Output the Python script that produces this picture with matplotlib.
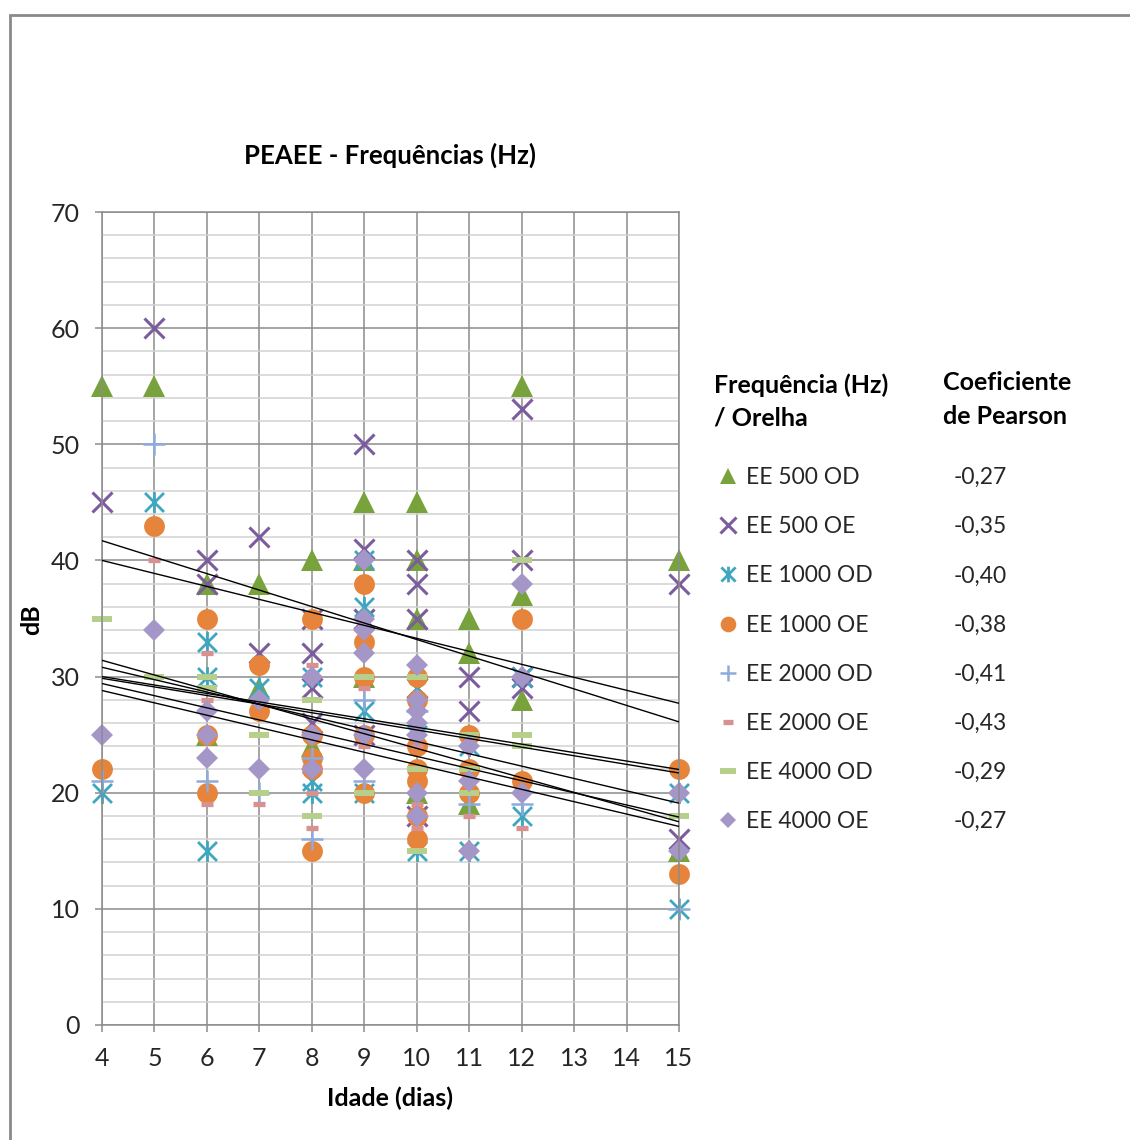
import matplotlib.pyplot as plt
import numpy as np
from matplotlib.lines import Line2D
from matplotlib.path import Path
from matplotlib.patches import Rectangle

plt.rcParams['font.family'] = ['Lato', 'DejaVu Sans']

# Idade (dias) e limiar (dB) de cada série
dias_500od = [4, 5, 6, 6, 7, 7, 8, 8, 9, 9, 9, 10, 10, 10, 10, 11, 11, 11, 12, 12, 12, 15, 15]
db_500od = [55, 55, 38, 25, 38, 29, 40, 24, 45, 40, 30, 45, 40, 35, 20, 35, 32, 19, 55, 37, 28, 40, 15]

dias_500oe = [4, 5, 6, 6, 7, 7, 8, 8, 8, 8, 9, 9, 9, 9, 10, 10, 10, 10, 10, 11, 11, 12, 12, 12, 12, 15, 15]
db_500oe = [45, 60, 40, 38, 42, 32, 35, 32, 29, 26, 50, 41, 35, 25, 40, 38, 35, 29, 18, 30, 27, 53, 40, 30, 29, 38, 16]

dias_1000od = [4, 5, 6, 6, 6, 7, 8, 8, 8, 9, 9, 9, 9, 10, 10, 10, 11, 11, 12, 12, 15, 15]
db_1000od = [20, 45, 33, 30, 15, 29, 30, 21, 20, 40, 36, 27, 20, 29, 25, 15, 24, 15, 30, 18, 20, 10]

dias_1000oe = [4, 5, 6, 6, 6, 7, 7, 8, 8, 8, 8, 8, 9, 9, 9, 9, 9, 10, 10, 10, 10, 10, 10, 10, 11, 11, 11, 12, 12, 15, 15]
db_1000oe = [22, 43, 35, 25, 20, 31, 27, 35, 25, 23, 22, 15, 38, 33, 30, 25, 20, 30, 28, 24, 22, 21, 18, 16, 25, 22, 20, 35, 21, 22, 13]

dias_2000od = [4, 5, 6, 7, 8, 8, 9, 9, 10, 10, 11, 12, 15]
db_2000od = [21, 50, 21, 20, 23, 16, 28, 21, 27, 18, 19, 19, 10]

dias_2000oe = [4, 5, 6, 6, 6, 7, 8, 8, 8, 9, 9, 9, 10, 10, 10, 11, 11, 12, 12, 15]
db_2000oe = [25, 40, 32, 28, 19, 19, 31, 20, 17, 32, 29, 24, 24, 19, 17, 18, 15, 20, 17, 20]

dias_4000od = [4, 5, 6, 6, 7, 7, 8, 8, 9, 9, 10, 10, 10, 11, 11, 11, 12, 12, 12, 15]
db_4000od = [35, 30, 30, 29, 25, 20, 28, 18, 30, 20, 30, 22, 15, 25, 22, 20, 40, 25, 24, 18]

dias_4000oe = [4, 5, 6, 6, 6, 7, 7, 8, 8, 8, 9, 9, 9, 9, 9, 9, 10, 10, 10, 10, 10, 10, 10, 11, 11, 11, 12, 12, 12, 15, 15]
db_4000oe = [25, 34, 27, 25, 23, 28, 22, 30, 25, 22, 40, 35, 34, 32, 25, 22, 31, 28, 27, 26, 25, 20, 18, 24, 21, 15, 38, 30, 20, 20, 15]

series_names = ['EE 500 OD', 'EE 500 OE', 'EE 1000 OD', 'EE 1000 OE',
                'EE 2000 OD', 'EE 2000 OE', 'EE 4000 OD', 'EE 4000 OE']
pearson = ['-0,27', '-0,35', '-0,40', '-0,38', '-0,41', '-0,43', '-0,29', '-0,27']

# linhas de tendência: valor lido em 4 dias e em 15 dias
trend_start = [40.0, 41.7, 31.4, 30.8, 29.4, 28.8, 30.0, 29.85]
trend_end = [27.7, 26.1, 17.5, 19.1, 17.9, 17.1, 22.0, 21.7]

all_days = [dias_500od, dias_500oe, dias_1000od, dias_1000oe,
            dias_2000od, dias_2000oe, dias_4000od, dias_4000oe]
all_db = [db_500od, db_500oe, db_1000od, db_1000oe,
          db_2000od, db_2000oe, db_4000od, db_4000oe]

# marcador tipo asterisco do Excel (X com traço vertical)
asterisk = Path([(-1, -1), (1, 1), (-1, 1), (1, -1), (0, -1.1), (0, 1.1)],
                [Path.MOVETO, Path.LINETO, Path.MOVETO, Path.LINETO, Path.MOVETO, Path.LINETO])

styles = [
    dict(marker='^', color='#77A23C', ms=15.5, mew=0),
    dict(marker='x', color='#7B5C9E', ms=15, mew=2.2),
    dict(marker=asterisk, color='#3FA6BF', ms=15, mew=2.0),
    dict(marker='o', color='#E5843A', ms=15, mew=0),
    dict(marker='+', color='#8FAADC', ms=16, mew=1.8),
    dict(marker='_', color='#D9918F', ms=9, mew=3.8),
    dict(marker='_', color='#B6D08C', ms=15, mew=4.3),
    dict(marker='D', color='#A497C7', ms=11, mew=0),
]

W, H = 1130, 1140
fig = plt.figure(figsize=(W / 100, H / 100), dpi=100)
ax = fig.add_axes([102 / W, 1 - 1025 / H, 577 / W, 813 / H])

handles = []
for i in range(len(series_names)):
    st = styles[i]
    h, = ax.plot(all_days[i], all_db[i], linestyle='none', marker=st['marker'],
                 color=st['color'], markeredgecolor=st['color'], ms=st['ms'], mew=st['mew'],
                 clip_on=False, zorder=2 + i * 0.01)
    handles.append(h)

# linhas de tendência
for i in range(len(series_names)):
    ax.plot([4, 15], [trend_start[i], trend_end[i]], color='black', lw=1.0, zorder=3)

ax.set_xlim(4, 15)
ax.set_ylim(0, 70)
ax.set_xticks(range(4, 16))
ax.set_yticks(range(0, 71, 10))
ax.set_yticks(range(0, 71, 2), minor=True)
ax.grid(which='major', color='#8c8c8c', lw=1.1)
ax.yaxis.grid(which='minor', color='#d2d2d2', lw=1.1)
ax.set_axisbelow(True)
for s in ax.spines.values():
    s.set_color('#8c8c8c')
    s.set_linewidth(1.1)
ax.tick_params(which='major', direction='out', length=5, width=1.1, color='#8c8c8c',
               labelsize=18, labelcolor='#262626', pad=11)
ax.tick_params(which='minor', length=0)

fig.text(390 / W, 1 - 155 / H, 'PEAEE - Frequências (Hz)', ha='center', va='center',
         fontsize=18.5, fontweight='bold')
fig.text(32 / W, 1 - 620 / H, 'dB', rotation=90, ha='center', va='center',
         fontsize=18, fontweight='bold')
fig.text(390 / W, 1 - 1098 / H, 'Idade (dias)', ha='center', va='center',
         fontsize=18, fontweight='bold')

fig.text(714 / W, 1 - 385 / H, 'Frequência (Hz)', ha='left', va='center', fontsize=18, fontweight='bold')
fig.text(714 / W, 1 - 418 / H, '/ Orelha', ha='left', va='center', fontsize=18, fontweight='bold')
fig.text(943 / W, 1 - 383 / H, 'Coeficiente', ha='left', va='center', fontsize=18, fontweight='bold')
fig.text(943 / W, 1 - 416 / H, 'de Pearson', ha='left', va='center', fontsize=18, fontweight='bold')

# legenda: marcadores + nomes na 1a coluna, coeficientes na 2a
blank = [Line2D([], [], linestyle='none') for _ in pearson]
leg = fig.legend(handles + blank, series_names + pearson, ncol=2,
                 loc='upper left', bbox_to_anchor=(718 / W, 1 - 467 / H),
                 frameon=False, fontsize=16.5, handlelength=0.9, handletextpad=0.3,
                 labelspacing=1.23, columnspacing=2.35, borderpad=0, borderaxespad=0,
                 markerscale=0.75)
for t in leg.get_texts():
    t.set_color('#262626')

# moldura do gráfico
fig.add_artist(Rectangle((10 / W, -0.05), 1.2, 1.05 - 15 / H, transform=fig.transFigure,
                         fill=False, edgecolor='#8a8a8a', lw=2))

fig.savefig('out.png', dpi=100)
